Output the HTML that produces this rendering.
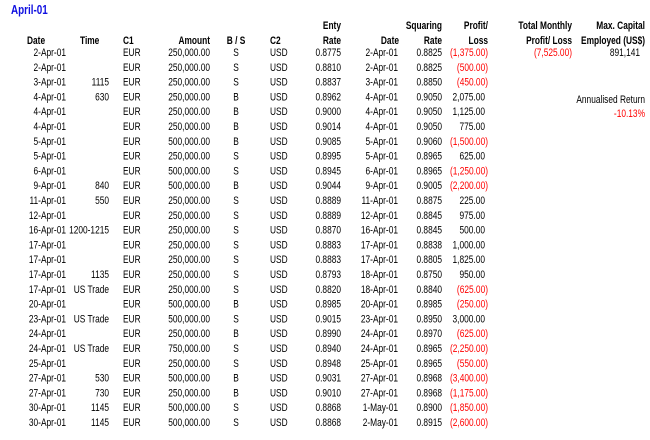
<!DOCTYPE html>
<html><head><meta charset="utf-8"><style>
html,body{margin:0;padding:0;background:#fff;}
svg{display:block;font-family:"Liberation Sans",Arial,sans-serif;}
</style></head><body>
<svg id="s" width="650" height="440" viewBox="0 0 650 440">
<g id="g" transform="scale(0.76,1)"></g>
</svg>
<script>
const dates=["2-Apr-01","2-Apr-01","3-Apr-01","4-Apr-01","4-Apr-01","4-Apr-01","5-Apr-01","5-Apr-01","6-Apr-01","9-Apr-01","11-Apr-01","12-Apr-01","16-Apr-01","17-Apr-01","17-Apr-01","17-Apr-01","17-Apr-01","20-Apr-01","23-Apr-01","24-Apr-01","24-Apr-01","25-Apr-01","27-Apr-01","27-Apr-01","30-Apr-01","30-Apr-01"];
const times=["","","1115","630","","","","","","840","550","","1200-1215","","","1135","US Trade","","US Trade","","US Trade","","530","730","1145","1145"];
const amounts=["250,000.00","250,000.00","250,000.00","250,000.00","250,000.00","250,000.00","500,000.00","250,000.00","500,000.00","500,000.00","250,000.00","250,000.00","250,000.00","250,000.00","250,000.00","250,000.00","250,000.00","500,000.00","500,000.00","250,000.00","750,000.00","250,000.00","500,000.00","250,000.00","500,000.00","500,000.00"];
const bs=["S","S","S","B","B","B","B","S","S","B","S","S","S","S","S","S","S","B","S","B","S","S","B","B","S","S"];
const entry=["0.8775","0.8810","0.8837","0.8962","0.9000","0.9014","0.9085","0.8995","0.8945","0.9044","0.8889","0.8889","0.8870","0.8883","0.8883","0.8793","0.8820","0.8985","0.9015","0.8990","0.8940","0.8948","0.9031","0.9010","0.8868","0.8868"];
const sqDates=["2-Apr-01","2-Apr-01","3-Apr-01","4-Apr-01","4-Apr-01","4-Apr-01","5-Apr-01","5-Apr-01","6-Apr-01","9-Apr-01","11-Apr-01","12-Apr-01","16-Apr-01","17-Apr-01","17-Apr-01","18-Apr-01","18-Apr-01","20-Apr-01","23-Apr-01","24-Apr-01","24-Apr-01","25-Apr-01","27-Apr-01","27-Apr-01","1-May-01","2-May-01"];
const sqRate=["0.8825","0.8825","0.8850","0.9050","0.9050","0.9050","0.9060","0.8965","0.8965","0.9005","0.8875","0.8845","0.8845","0.8838","0.8805","0.8750","0.8840","0.8985","0.8950","0.8970","0.8965","0.8965","0.8968","0.8968","0.8900","0.8915"];
const pl=[-1375,-500,-450,2075,1125,775,-1500,625,-1250,-2200,225,975,500,1000,1825,950,-625,-250,3000,-625,-2250,-550,-3400,-1175,-1850,-2600];

const S=0.76, g=document.getElementById('g'), NS='http://www.w3.org/2000/svg';
function t(x,y,str,anchor,opt,name){
  const e=document.createElementNS(NS,'text');
  e.setAttribute('x',x/S);e.setAttribute('y',y);
  e.setAttribute('text-anchor',anchor);
  e.setAttribute('font-size',opt.fs||11);
  if(opt.bold)e.setAttribute('font-weight','bold');
  e.setAttribute('fill',opt.fill||'#000');
  e.textContent=str;
  
  
  g.appendChild(e);return e;
}
function fmt(v){const a=Math.abs(v).toLocaleString('en-US',{minimumFractionDigits:2,maximumFractionDigits:2});return v<0?'('+a+')':a;}
const B={bold:true};
t(11,14,"April-01","start",{bold:true,fs:13,fill:'#1010e0'},'sheet-title');
t(27,44,"Date","start",B,'header-date');
t(80,44,"Time","start",B,'header-time');
t(123,44,"C1","start",B,'header-c1');
t(210,44,"Amount","end",B,'header-amount');
t(236,44,"B / S","middle",B,'header-buy-sell');
t(270,44,"C2","start",B,'header-c2');
t(341,29,"Enty","end",B,'header-entry-1');
t(341,44,"Rate","end",B,'header-entry-2');
t(399,44,"Date","end",B,'header-square-date');
t(442,29,"Squaring","end",B,'header-squaring-1');
t(442,44,"Rate","end",B,'header-squaring-2');
t(488,29,"Profit/","end",B,'header-pl-1');
t(488,44,"Loss","end",B,'header-pl-2');
t(572,29,"Total Monthly","end",B,'header-total-1');
t(572,44,"Profit/ Loss","end",B,'header-total-2');
t(645,29,"Max. Capital","end",B,'header-capital-1');
t(645,44,"Employed (US$)","end",B,'header-capital-2');
const total=pl.reduce((a,b)=>a+b,0);
t(572,56,fmt(total),"end",{fill:'#ff0000'},'total-monthly-pl');
t(640,56,"891,141","end",{},'max-capital');
t(645,103,"Annualised Return","end",{},'annualised-return-label');
t(645,117,"-10.13%","end",{fill:'#ff0000'},'annualised-return-value');
for(let i=0;i<dates.length;i++){
  const y=56+i*14.8;
  t(66,y,dates[i],"end",{},'trade-date');
  if(times[i])t(109,y,times[i],"end",{},'trade-time');
  t(123,y,"EUR","start",{},'currency-1');
  t(210,y,amounts[i],"end",{},'amount');
  t(236,y,bs[i],"middle",{},'buy-sell');
  t(270,y,"USD","start",{},'currency-2');
  t(341,y,entry[i],"end",{},'entry-rate');
  t(398,y,sqDates[i],"end",{},'square-date');
  t(442,y,sqRate[i],"end",{},'squaring-rate');
  const v=pl[i];
  t(v<0?488:485,y,fmt(v),"end",{fill:v<0?'#ff0000':'#000'},'profit-loss');
}
</script>
</body></html>
